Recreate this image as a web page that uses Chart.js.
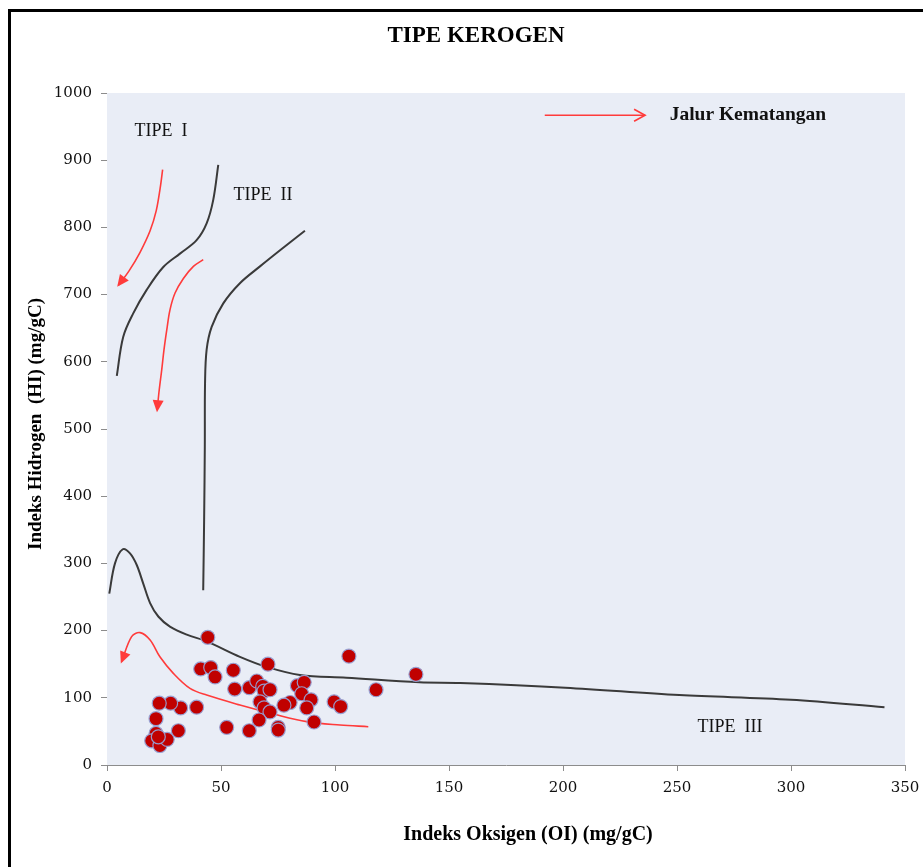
<!DOCTYPE html>
<html>
<head>
<meta charset="utf-8">
<script src="https://cdn.jsdelivr.net/npm/chart.js@4/dist/chart.umd.min.js"></script>
<style>
  html, body { margin: 0; padding: 0; background: #fff; }
  #wrap { position: relative; width: 923px; height: 867px; overflow: hidden; }
  #frame { position: absolute; left: 8px; top: 9px; width: 1000px; height: 1000px;
           border-top: 3px solid #000; border-left: 3px solid #000; }
  #c { position: absolute; left: 0; top: 0; }
</style>
</head>
<body>
<div id="wrap">
  <div id="frame"></div>
  <canvas id="c" width="923" height="867"></canvas>
</div>
<script>
// Rock-Eval samples: oxygen index (OI) and hydrogen index (HI), mg/gC
const sampleOI = [44.2, 41.1, 45.5, 47.4, 55.4, 56.0, 70.6, 62.4, 65.7, 68.3, 68.9, 71.5,
                  83.5, 86.5, 85.4, 89.5, 87.6, 80.3, 77.6, 67.1, 68.9, 71.5, 66.7, 75.1,
                  75.1, 62.4, 52.5, 90.8, 99.6, 102.5, 106.1, 118.0, 135.5, 39.3, 32.3, 27.9,
                  22.9, 21.5, 31.3, 21.5, 19.6, 23.2, 26.4, 22.5];
const sampleHI = [190, 143, 145, 131, 141, 113, 150, 115, 125, 117, 110, 112,
                  118, 123, 106, 97, 85, 93, 89, 94, 85, 79, 67, 56,
                  52, 51, 56, 64, 94, 87, 162, 112, 135, 86, 85, 92,
                  92, 69, 51, 47, 36, 29, 38, 42];

// Kerogen type boundary curves
const typeI_OI  = [4.3, 7.1, 11.5, 17.4, 24.7, 32.0, 39.3, 43.7, 46.6, 48.8];
const typeI_HI  = [579, 637, 672, 707, 741, 761, 781, 806, 841, 893];

const typeII_OI = [42.2, 42.6, 42.9, 43.0, 43.7, 45.9, 51.0, 58.3, 67.1, 75.9, 86.8];
const typeII_HI = [260, 365, 474, 568, 618, 652, 687, 717, 742, 766, 795];

const typeIII_OI = [1.0, 3.5, 6.9, 10.1, 13.0, 15.9, 18.9, 22.5, 27.6, 35.0, 43.7, 58.3,
                    70.0, 84.6, 105, 137, 155, 201, 251, 300, 341];
const typeIII_HI = [255, 300, 321, 315, 298, 270, 241, 221, 206, 194, 184, 161,
                    146, 134, 130, 123, 122, 115, 104, 97, 86];

// Maturation paths (tail first, head last)
const pathI_OI   = [24.4, 23.3, 21.6, 18.9, 14.5, 9.6, 5.0];
const pathI_HI   = [886, 858, 825, 795, 763, 735, 714];
const pathII_OI  = [42.2, 37.9, 33.5, 29.8, 27.6, 26.2, 25.0, 24.0, 22.9, 22.0];
const pathII_HI  = [752, 742, 724, 702, 677, 647, 618, 588, 558, 528];
const pathIII_OI = [114.6, 102.2, 87.6, 73.0, 58.3, 43.7, 36.4, 29.1, 23.2, 18.9, 14.5, 10.8, 6.4];
const pathIII_HI = [57, 59.5, 64.5, 76, 89.3, 104, 114, 136.4, 161, 186, 197, 191, 153.7];
const legendPath_OI = [192, 236];
const legendPath_HI = [967, 967];

// Axis ticks
const xTicks = [0, 50, 100, 150, 200, 250, 300, 350];
const yTicks = [0, 100, 200, 300, 400, 500, 600, 700, 800, 900, 1000];

// Text annotations anchored in data units
const noteText = ['TIPE  I', 'TIPE  II', 'TIPE  III', 'Jalur Kematangan'];
const noteOI   = [23.7, 68.4, 273.2, 281.1];
const noteHI   = [943, 848, 56.5, 967];
const noteBold = [false, false, false, true];

const zip = (xs, ys) => xs.map((x, i) => ({ x: x, y: ys[i] }));

const CURVE = '#3a3a3a';
const ARROW = '#ff3b3b';

function curve(label, xs, ys) {
  return { label, data: zip(xs, ys), showLine: true, borderColor: CURVE, borderWidth: 2,
           pointRadius: 0, tension: 0.35, fill: false };
}
function path(label, xs, ys, head) {
  return { label, data: zip(xs, ys), showLine: true, borderColor: ARROW, borderWidth: 1.6,
           pointRadius: 0, tension: 0.35, fill: false, arrowHead: head };
}

const SERIF = '"Liberation Serif", "Times New Roman", serif';

const decor = {
  id: 'decor',
  beforeDatasetsDraw(chart) {
    const { ctx, chartArea: a } = chart;
    ctx.save();
    ctx.fillStyle = '#e9edf6';
    ctx.fillRect(a.left, a.top, a.right - a.left, a.bottom - a.top);
    ctx.restore();
  },
  afterDatasetsDraw(chart) {
    const { ctx, scales } = chart;
    const xs = scales.x, ys = scales.y;
    // arrow heads at the end of each maturation path
    chart.data.datasets.forEach((ds) => {
      if (!ds.arrowHead) return;
      const pts = ds.data;
      const p1 = pts[pts.length - 1], p0 = pts[pts.length - 2];
      const x1 = xs.getPixelForValue(p1.x), y1 = ys.getPixelForValue(p1.y);
      const x0 = xs.getPixelForValue(p0.x), y0 = ys.getPixelForValue(p0.y);
      const ang = Math.atan2(y1 - y0, x1 - x0);
      ctx.save();
      ctx.translate(x1, y1);
      ctx.rotate(ang);
      ctx.beginPath();
      if (ds.arrowHead === 'filled') {
        ctx.moveTo(2, 0); ctx.lineTo(-10, -5.5); ctx.lineTo(-10, 5.5); ctx.closePath();
        ctx.fillStyle = ds.borderColor; ctx.fill();
      } else {
        ctx.moveTo(-11, -6); ctx.lineTo(0, 0); ctx.lineTo(-11, 6);
        ctx.strokeStyle = ds.borderColor; ctx.lineWidth = 1.6; ctx.stroke();
      }
      ctx.restore();
    });
    // annotations
    ctx.save();
    ctx.fillStyle = '#111';
    ctx.textAlign = 'center';
    ctx.textBaseline = 'middle';
    noteText.forEach((t, i) => {
      ctx.font = (noteBold[i] ? 'bold 19.5px ' : '18px ') + SERIF;
      ctx.fillText(t, xs.getPixelForValue(noteOI[i]), ys.getPixelForValue(noteHI[i]));
    });
    ctx.restore();
  },
  afterDraw(chart) {
    const { ctx } = chart;
    ctx.save();
    ctx.fillStyle = '#000';
    ctx.textAlign = 'center';
    ctx.textBaseline = 'middle';
    ctx.font = 'bold 23px ' + SERIF;
    ctx.fillText('TIPE KEROGEN', 476, 36);
    ctx.font = 'bold 20px ' + SERIF;
    ctx.fillText('Indeks Oksigen (OI) (mg/gC)', 528, 835);
    ctx.translate(36, 424);
    ctx.rotate(-Math.PI / 2);
    ctx.font = 'bold 19px ' + SERIF;
    ctx.fillText('Indeks Hidrogen  (HI) (mg/gC)', 0, 0);
    ctx.restore();
  }
};

const tickFont = { family: '"DejaVu Serif", serif', size: 15 };

new Chart(document.getElementById('c'), {
  type: 'scatter',
  data: {
    datasets: [
      { label: 'Sampel', data: zip(sampleOI, sampleHI), pointRadius: 7,
        backgroundColor: '#c00000', borderColor: 'rgba(150,160,212,0.95)', borderWidth: 1.2 },
      curve('Tipe I', typeI_OI, typeI_HI),
      curve('Tipe II', typeII_OI, typeII_HI),
      curve('Tipe III', typeIII_OI, typeIII_HI),
      path('Jalur I', pathI_OI, pathI_HI, 'filled'),
      path('Jalur II', pathII_OI, pathII_HI, 'filled'),
      path('Jalur III', pathIII_OI, pathIII_HI, 'filled'),
      path('Jalur Kematangan', legendPath_OI, legendPath_HI, 'open')
    ]
  },
  options: {
    responsive: false,
    animation: false,
    devicePixelRatio: 1,
    events: [],
    layout: { padding: { top: 93, right: 18, left: 0, bottom: 0 } },
    plugins: { legend: { display: false }, title: { display: false }, tooltip: { enabled: false } },
    scales: {
      x: {
        type: 'linear', min: 0, max: 350,
        afterFit(s) { s.height = 102; s.paddingLeft = 0; s.paddingRight = 0; },
        afterBuildTicks(s) { s.ticks = xTicks.map(v => ({ value: v })); },
        grid: { drawOnChartArea: false, drawTicks: true, tickLength: 6, color: '#8c8c8c' },
        border: { color: '#8c8c8c', width: 1 },
        ticks: { font: tickFont, color: '#111', padding: 8, maxRotation: 0,
                 callback: v => String(v) }
      },
      y: {
        type: 'linear', min: 0, max: 1000,
        afterFit(s) { s.width = 107; s.paddingTop = 0; s.paddingBottom = 0; },
        afterBuildTicks(s) { s.ticks = yTicks.map(v => ({ value: v })); },
        grid: { drawOnChartArea: false, drawTicks: true, tickLength: 6, color: '#8c8c8c' },
        border: { color: '#8c8c8c', width: 1 },
        ticks: { font: tickFont, color: '#111', padding: 9, callback: v => String(v) }
      }
    }
  },
  plugins: [decor]
});
</script>
</body>
</html>
